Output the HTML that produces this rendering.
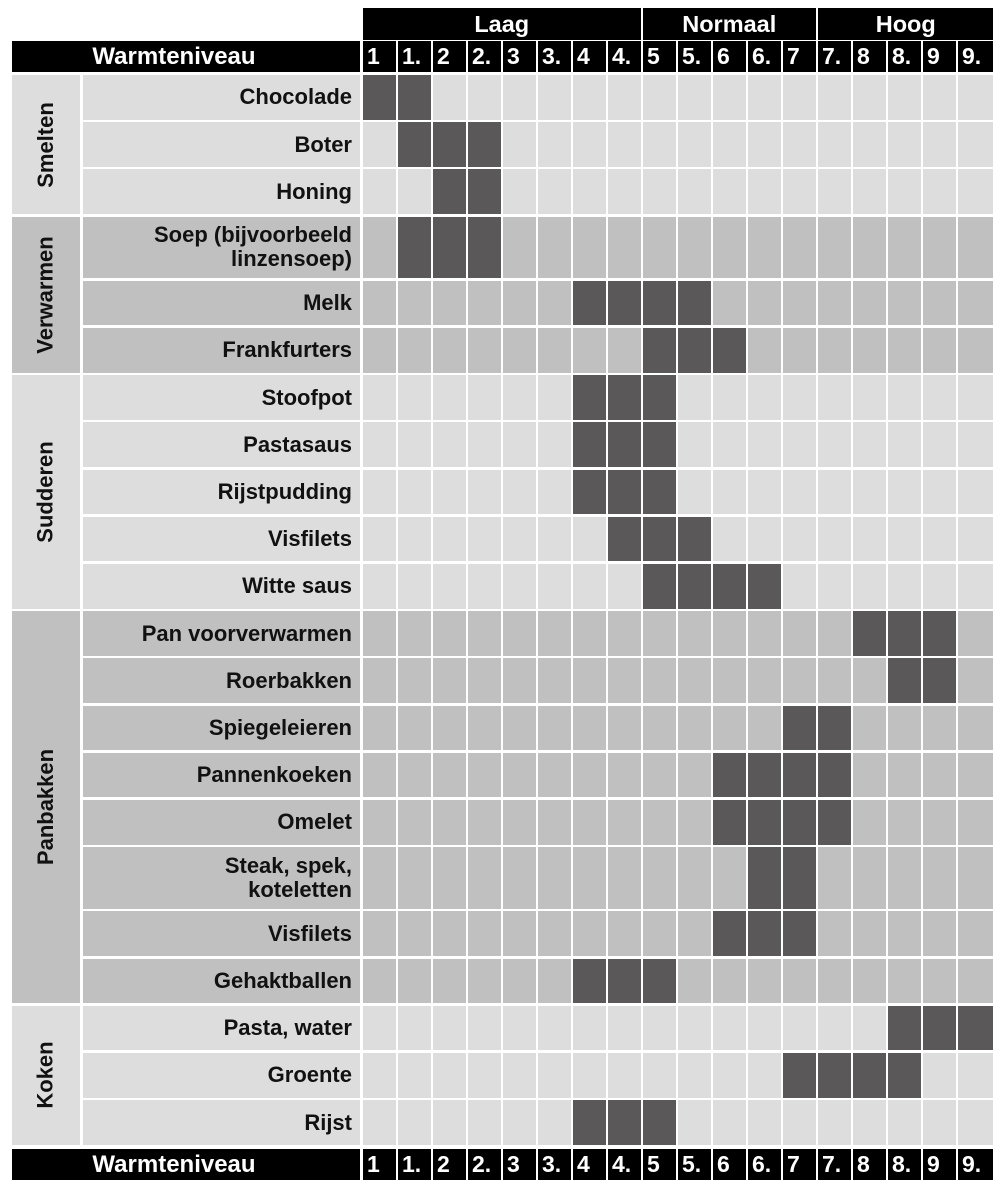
<!DOCTYPE html>
<html><head><meta charset="utf-8"><style>
body{margin:0;width:993px;height:1184px;background:#fff;position:relative;overflow:hidden;font-family:"Liberation Sans",sans-serif;font-weight:bold}
.a{position:absolute;box-sizing:border-box}
.blk{background:#000;color:#fff;display:flex;align-items:center;justify-content:center;font-size:22.5px}
.lab{display:flex;align-items:center;justify-content:flex-end;padding-right:8px;font-size:22px;color:#111;text-align:right;line-height:24px}
.cat{display:flex;align-items:center;justify-content:center}
.cat span{transform:rotate(-90deg);white-space:nowrap;font-size:22px;color:#111}
</style></head><body>
<div id="root"></div>
<script>
const colLabels=["1","1.","2","2.","3","3.","4","4.","5","5.","6","6.","7","7.","8","8.","9","9."];
const groups=[["Laag",0,7],["Normaal",8,12],["Hoog",13,17]];
const categories=[["Smelten",0,2,"#dcdddc"],["Verwarmen",3,5,"#c0c0c0"],["Sudderen",6,10,"#dcdddc"],["Panbakken",11,18,"#c0c0c0"],["Koken",19,21,"#dcdddc"]];
const rowLabels=["Chocolade","Boter","Honing","Soep (bijvoorbeeld<br>linzensoep)","Melk","Frankfurters","Stoofpot","Pastasaus","Rijstpudding","Visfilets","Witte saus","Pan voorverwarmen","Roerbakken","Spiegeleieren","Pannenkoeken","Omelet","Steak, spek,<br>koteletten","Visfilets","Gehaktballen","Pasta, water","Groente","Rijst"];
const rowDouble=[0,0,0,1,0,0,0,0,0,0,0,0,0,0,0,0,1,0,0,0,0,0];
const ranges=[[0,1],[1,3],[2,3],[1,3],[6,9],[8,10],[6,8],[6,8],[6,8],[7,9],[8,11],[14,16],[15,16],[12,13],[10,13],[10,13],[11,12],[10,12],[6,8],[15,17],[12,15],[6,8]];
const root=document.getElementById('root');
function div(cls,x,y,w,h,bg,html){const d=document.createElement('div');d.className='a '+cls;d.style.left=x+'px';d.style.top=y+'px';d.style.width=w+'px';d.style.height=h+'px';if(bg)d.style.background=bg;if(html!==undefined)d.innerHTML=html;root.appendChild(d);return d;}
const X0=363,CW=35,CELLW=32.5,P=47.2,D=64.2,Y0=75,GAP=2.5;
const colX=i=>X0+i*CW;
const rowY=[];let y=Y0;
for(let r=0;r<rowLabels.length;r++){rowY.push(y);y+=rowDouble[r]?D:P;}
const rowH=r=>(rowDouble[r]?D:P)-GAP;
const rowCat=r=>categories.find(c=>r>=c[1]&&r<=c[2]);
groups.forEach(g=>{const x=colX(g[1]);const w=colX(g[2])+CELLW-x+(g[2]==17?3:0);
 const d=div('blk',x,8,w,32,null,g[0]);
 d.style.fontSize='23.5px';
 
 });
function headerRow(yy,h,name){
 const t=div('blk',12,yy,348,h,null,'Warmteniveau');
 
 
 t.style.fontSize='24px';
 t.style.paddingRight='24px';
 colLabels.forEach((c,i)=>{const d=div('blk',colX(i),yy,i==17?993-colX(i):CELLW,h,null,c);d.style.justifyContent='flex-start';d.style.paddingLeft='4px';d.style.fontSize='23px';
  
  });
}
headerRow(41,31,'top-header');
headerRow(1149,31,'bottom-header');
categories.forEach(c=>{const y1=rowY[c[1]],y2=rowY[c[2]]+rowH(c[2]);
 const d=div('cat',12,y1,68,y2-y1,c[3],'<span>'+c[0]+'</span>');
 
 });
rowLabels.forEach((l,r)=>{const bg=rowCat(r)[3];const h=rowH(r);
 const d=div('lab',83,rowY[r],277,h,bg,l);
 
 
 for(let i=0;i<18;i++){const on=i>=ranges[r][0]&&i<=ranges[r][1];
  const c=div('',colX(i),rowY[r],i==17?993-colX(i):CELLW,h,on?'#5a5859':bg);
  
  }
});
</script>
</body></html>
